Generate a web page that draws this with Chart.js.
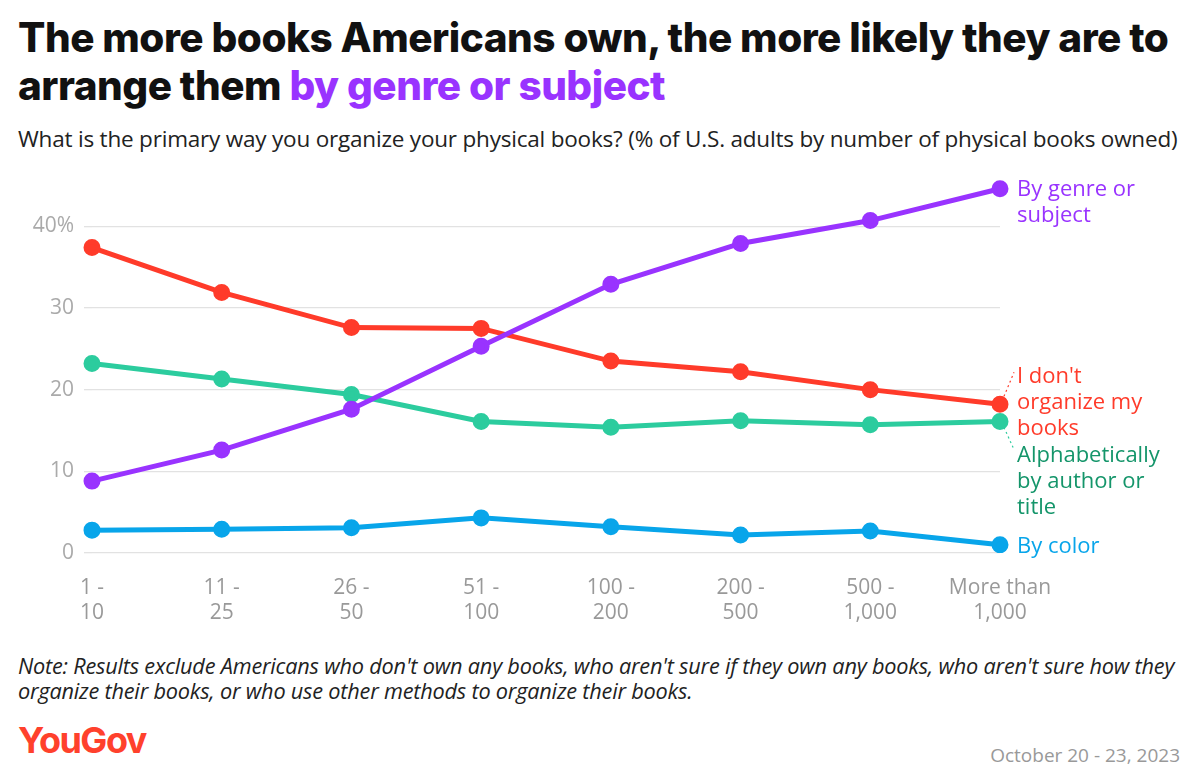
<!DOCTYPE html>
<html><head><meta charset="utf-8">
<script src="https://cdn.jsdelivr.net/npm/chart.js@4"></script>
<style>
body{margin:0;width:1200px;height:765px;background:#fff;font-family:"Open Sans",sans-serif;position:relative;overflow:hidden}
h1{position:absolute;left:18px;top:14px;margin:0;font-family:Inter,sans-serif;font-weight:800;font-size:40.5px;line-height:48px;color:#111;letter-spacing:-0.5px}
h1 span{color:#9933ff}
.sub{position:absolute;left:18px;top:123px;font-size:22.5px;color:#222;letter-spacing:-0.2px}
.note{position:absolute;left:18px;top:653px;font-size:21.7px;font-style:italic;color:#222;line-height:25px;letter-spacing:-0.2px}
.logo{position:absolute;left:18px;top:718px;font-family:Inter,sans-serif;font-weight:700;font-size:36px;line-height:44px;color:#ff412c;letter-spacing:-1.5px}
.date{position:absolute;right:20px;top:742px;font-size:19px;color:#999}
#wrap{position:absolute;left:20px;top:122px;width:1180px;height:516px}
</style></head><body>
<h1>The more books Americans own, the more likely they are to<br>arrange them <span>by genre or subject</span></h1>
<div class="sub">What is the primary way you organize your physical books? (% of U.S. adults by number of physical books owned)</div>
<div id="wrap"><canvas id="c"></canvas></div>
<div class="note">Note: Results exclude Americans who don't own any books, who aren't sure if they own any books, who aren't sure how they<br>organize their books, or who use other methods to organize their books.</div>
<div class="logo">YouGov</div>
<div class="date">October 20 - 23, 2023</div>
<script>
const categories=[["1 -","10"],["11 -","25"],["26 -","50"],["51 -","100"],["100 -","200"],["200 -","500"],["500 -","1,000"],["More than","1,000"]];
const byGenre=[8.8,12.6,17.6,25.3,32.9,37.9,40.7,44.6];
const noOrganize=[37.4,31.9,27.6,27.5,23.5,22.2,20.0,18.2];
const alphabetical=[23.2,21.3,19.4,16.1,15.4,16.2,15.7,16.1];
const byColor=[2.8,2.9,3.1,4.3,3.2,2.2,2.7,1.0];

// labels at the right end of each line
const endLabels={
  id:"endLabels",
  afterDatasetsDraw(chart){
    const c=chart.ctx;
    c.save();
    c.font='22px "Open Sans", sans-serif';
    c.textBaseline="middle";
    chart.data.datasets.forEach((ds,i)=>{
      const pt=chart.getDatasetMeta(i).data[ds.data.length-1];
      const x=pt.x+17;
      c.fillStyle=ds.textColor;
      ds.endText.forEach((t,j)=>c.fillText(t,x,pt.y+ds.dy+j*26));
      if(ds.leader){
        c.strokeStyle=ds.borderColor;c.lineWidth=1.2;c.setLineDash([2,3]);
        c.beginPath();c.moveTo(pt.x+4,pt.y+ds.leader[0]);c.lineTo(x-3,pt.y+ds.leader[1]);c.stroke();
        c.setLineDash([]);
      }
    });
    c.restore();
  }
};

function mk(label,data,color,textColor,endText,dy,leader){
  return {label,data,borderColor:color,backgroundColor:color,borderWidth:5,pointRadius:6,pointHoverRadius:6,
    tension:0,textColor,endText,dy,leader};
}

new Chart(document.getElementById("c"),{
  type:"line",
  data:{labels:categories,datasets:[
    mk("By genre or subject",byGenre,"#9933ff","#9933ff",["By genre or","subject"],1,null),
    mk("I don't organize my books",noOrganize,"#ff3b2a","#ff3b2a",["I don't","organize my","books"],-28,[-8,-32]),
    mk("Alphabetically by author or title",alphabetical,"#2ccc9e","#14956a",["Alphabetically","by author or","title"],34,[6,28]),
    mk("By color",byColor,"#08a5ea","#08a5ea",["By color"],2,null)
  ]},
  plugins:[endLabels],
  options:{
    responsive:true,maintainAspectRatio:false,animation:false,
    layout:{padding:{top:2,right:200}},
    plugins:{legend:{display:false},tooltip:{enabled:false}},
    scales:{
      x:{offset:false,grid:{display:false},border:{display:false},
        afterFit(s){s.height=85;},
        ticks:{color:"#999",font:{size:21,family:"Open Sans"},maxRotation:0,padding:14}},
      y:{min:0,max:50,border:{display:false},
        afterFit(s){s.width=72;},
        grid:{color:c=>c.tick.value===50?"rgba(0,0,0,0)":"#e2e2e2",lineWidth:1.3},
        ticks:{stepSize:10,color:"#aaa",font:{size:21,family:"Open Sans"},padding:10,
          callback:v=>v===50?"":(v===40?"40%":v)}}
    }
  }
});
</script>
</body></html>
